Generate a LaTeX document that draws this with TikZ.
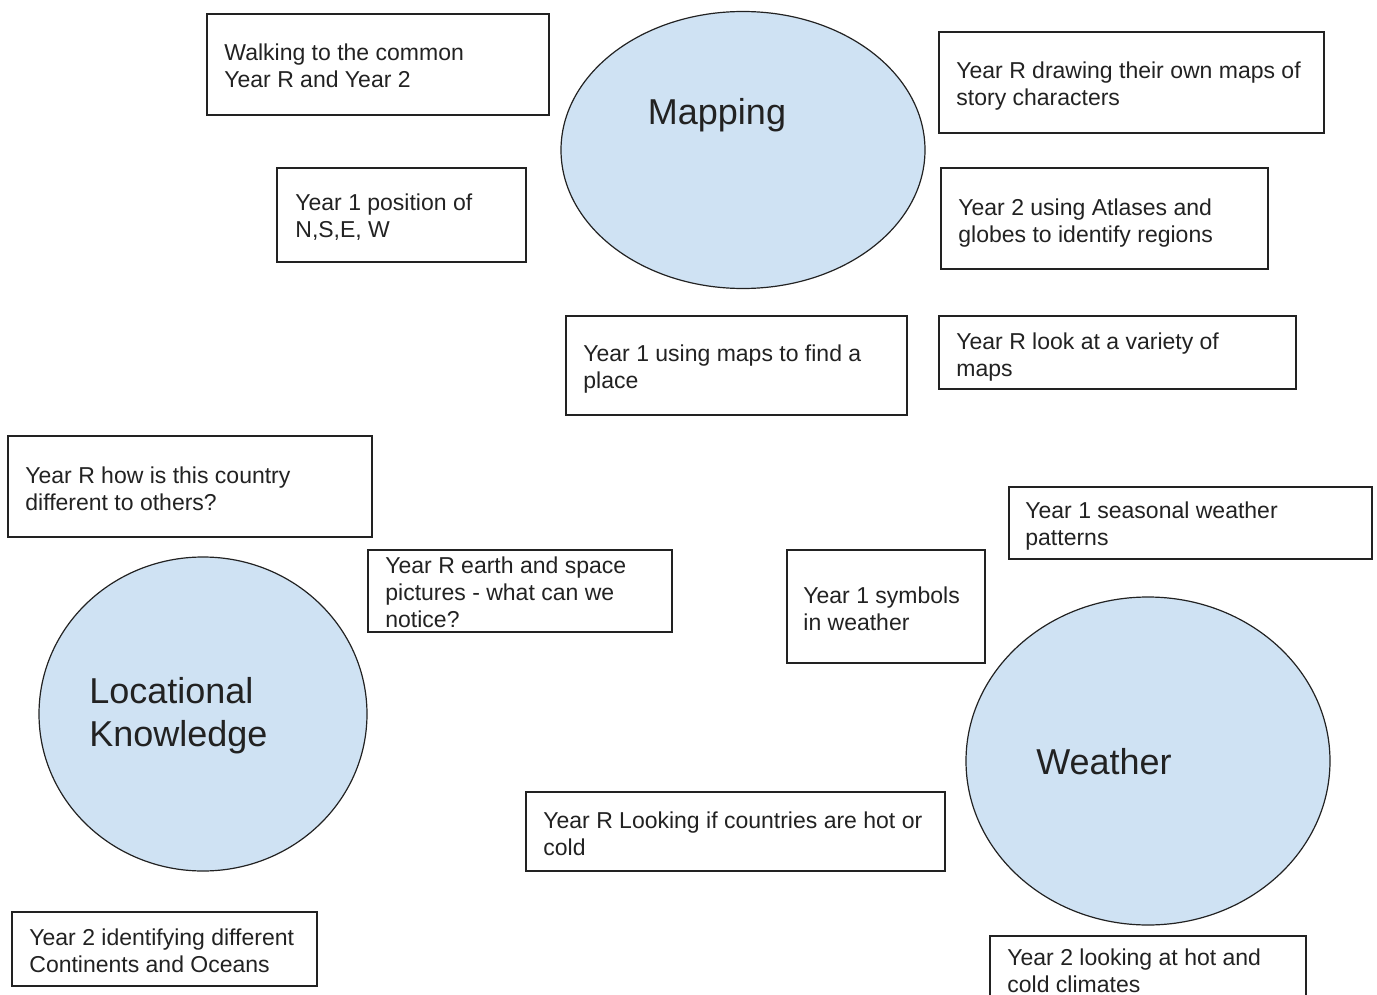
\documentclass[tikz,border=0pt]{standalone}
\usepackage{fontspec}
\setmainfont{Liberation Sans}
\usepackage{tikz}
\usetikzlibrary{shapes.geometric, positioning}
\usepackage{xcolor}
\definecolor{topicblue}{HTML}{CFE2F3}
\definecolor{inkgrey}{HTML}{222222}

\begin{document}
\begin{tikzpicture}[x=0.5pt, y=-0.5pt,
    topic/.style={ellipse, draw=inkgrey, fill=topicblue, line width=0.6pt, inner sep=0pt},
    topiclabel/.style={text=inkgrey, align=left, inner sep=0pt, font=\fontsize{18}{21.5}\selectfont},
    frame/.style={rectangle, draw=inkgrey, fill=white, line width=0.8pt, inner sep=0pt, anchor=north west},
    note/.style={text=inkgrey, align=left, inner sep=0pt, anchor=north west, font=\fontsize{11.5}{13.5}\selectfont}]
    \useasboundingbox (0,0) rectangle (1377,995);

    % Topics as ellipses
    \node[topic, minimum width=182pt, minimum height=138.5pt] (mapping) at (743,150) {};
    \node[topiclabel] (mappinglbl) at (717,115) {Mapping};

    \node[topic, minimum width=164pt, minimum height=157pt] (locational) at (203,714) {};
    \node[topiclabel, anchor=west] (locationallbl) at (89,716) {Locational\\Knowledge};

    \node[topic, minimum width=182pt, minimum height=164pt] (weather) at (1148,761) {};
    \node[topiclabel] (weatherlbl) at (1104,762) {Weather};

    % Mapping notes
    \node[frame, minimum width=171pt, minimum height=50.5pt] (walk) at (206,13) {};
    \node[note] (walktxt) at ([shift={(18,30)}]walk.north west) {Walking to the common\\Year R and Year 2};

    \node[frame, minimum width=192.5pt, minimum height=50.5pt] (drawmaps) at (938,31) {};
    \node[note] (drawmapstxt) at ([shift={(18,30)}]drawmaps.north west) {Year R drawing their own maps of\\story characters};

    \node[frame, minimum width=124.5pt, minimum height=47pt] (compass) at (276,167) {};
    \node[note] (compasstxt) at ([shift={(19,26)}]compass.north west) {Year 1 position of\\N,S,E, W};

    \node[frame, minimum width=163.5pt, minimum height=50.5pt] (atlas) at (940,167) {};
    \node[note] (atlastxt) at ([shift={(18,31)}]atlas.north west) {Year 2 using Atlases and\\globes to identify regions};

    \node[frame, minimum width=170.5pt, minimum height=49.5pt] (findplace) at (565,315) {};
    \node[note] (findplacetxt) at ([shift={(18,29)}]findplace.north west) {Year 1 using maps to find a\\place};

    \node[frame, minimum width=178.5pt, minimum height=36.5pt] (variety) at (938,315) {};
    \node[note] (varietytxt) at ([shift={(18,17)}]variety.north west) {Year R look at a variety of\\maps};

    % Locational knowledge notes
    \node[frame, minimum width=182pt, minimum height=50.5pt] (country) at (7,435) {};
    \node[note] (countrytxt) at ([shift={(18,31)}]country.north west) {Year R how is this country\\different to others?};

    \node[frame, minimum width=152pt, minimum height=41pt] (space) at (367,549) {};
    \node[note] (spacetxt) at ([shift={(18,7)}]space.north west) {Year R earth and space\\pictures - what can we\\notice?};

    \node[frame, minimum width=209.5pt, minimum height=39.5pt] (hotcold) at (525,791) {};
    \node[note] (hotcoldtxt) at ([shift={(18,20)}]hotcold.north west) {Year R Looking if countries are hot or\\cold};

    \node[frame, minimum width=152.5pt, minimum height=37pt] (continents) at (11,911) {};
    \node[note] (continentstxt) at ([shift={(18,17)}]continents.north west) {Year 2 identifying different\\Continents and Oceans};

    % Weather notes
    \node[frame, minimum width=181.5pt, minimum height=36pt] (seasonal) at (1008,486) {};
    \node[note] (seasonaltxt) at ([shift={(17,15)}]seasonal.north west) {Year 1 seasonal weather\\patterns};

    \node[frame, minimum width=99pt, minimum height=56.5pt] (symbols) at (786,549) {};
    \node[note] (symbolstxt) at ([shift={(17,37)}]symbols.north west) {Year 1 symbols\\in weather};

    \node[frame, minimum width=158pt, minimum height=35pt] (climates) at (989,935) {};
    \node[note] (climatestxt) at ([shift={(18,13)}]climates.north west) {Year 2 looking at hot and\\cold climates};
\end{tikzpicture}
\end{document}
